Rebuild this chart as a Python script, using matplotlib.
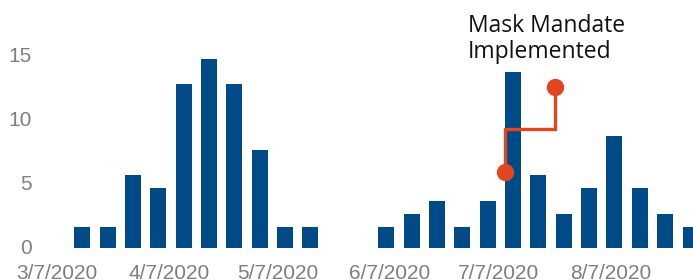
import matplotlib.pyplot as plt
import matplotlib.dates as mdates
import numpy as np

# weekly bars (week ending Saturday)
spring_weeks = ["2020-03-14", "2020-03-21", "2020-03-28", "2020-04-04", "2020-04-11",
                "2020-04-18", "2020-04-25", "2020-05-02", "2020-05-09", "2020-05-16"]
spring_values = [1.7, 1.7, 5.7, 4.7, 12.8, 14.8, 12.8, 7.7, 1.7, 1.7]

summer_weeks = ["2020-06-06", "2020-06-13", "2020-06-20", "2020-06-27", "2020-07-04",
                "2020-07-11", "2020-07-18", "2020-07-25", "2020-08-01", "2020-08-08",
                "2020-08-15", "2020-08-22", "2020-08-29"]
summer_values = [1.7, 2.7, 3.7, 1.7, 3.7, 13.8, 5.7, 2.7, 4.7, 8.8, 4.7, 2.7, 1.7]

tick_dates = ["2020-03-07", "2020-04-07", "2020-05-07", "2020-06-07", "2020-07-07", "2020-08-07"]
tick_labels = ["3/7/2020", "4/7/2020", "5/7/2020", "6/7/2020", "7/7/2020", "8/7/2020"]
y_ticks = [0, 5, 10, 15]

# annotation connector: elbow from the spike to the label
mandate_x = ["2020-07-08T17:00", "2020-07-08T17:00", "2020-07-22T14:00", "2020-07-22T14:00"]
mandate_y = [6.0, 9.3, 9.3, 12.6]
mandate_label = "Mask Mandate\nImplemented"

BAR_COLOR = "#004A87"
ACCENT = "#E2461E"
GREY = "#7f7f7f"

W, H, DPI = 693, 280, 100
PX_PER_DAY = 3.62
PX_PER_UNIT = 12.8


def to_num(dates):
    return mdates.date2num(np.array(dates, dtype="datetime64[m]"))


fig = plt.figure(figsize=(W / DPI, H / DPI), dpi=DPI)
left_px, bottom_px, top_px = 40, 280 - 248.3, 280 - 40
ax = fig.add_axes([left_px / W, bottom_px / H, 1 - left_px / W, (top_px - bottom_px) / H])

origin = to_num(["2020-03-07"])[0]
ax.set_xlim(origin - (57 - left_px) / PX_PER_DAY, origin + (W - 57) / PX_PER_DAY)
ax.set_ylim(0, (top_px - bottom_px) / PX_PER_UNIT)

bar_w = 16 / PX_PER_DAY
ax.bar(to_num(spring_weeks), spring_values, width=bar_w, color=BAR_COLOR)
ax.bar(to_num(summer_weeks), summer_values, width=bar_w, color=BAR_COLOR)

mx = to_num(mandate_x)
ax.plot(mx, mandate_y, color=ACCENT, lw=2.4, solid_joinstyle="miter", zorder=3)
ax.plot(mx[[0, -1]], [mandate_y[0], mandate_y[-1]], "o", color=ACCENT, ms=11.5, zorder=4)

# va="baseline" on multi-line text anchors the last line
fig.text(468 / W, 1 - 58.3 / H, mandate_label, fontsize=16.5, family="Open Sans",
         va="baseline", ha="left", color="#111111", linespacing=1.15)

ax.set_xticks(to_num(tick_dates))
ax.set_xticklabels(tick_labels)
ax.set_yticks(y_ticks)
ax.tick_params(length=0, labelsize=15, labelcolor=GREY)
ax.tick_params(axis="x", pad=11)
ax.tick_params(axis="y", pad=6)
for lbl in ax.get_xticklabels() + ax.get_yticklabels():
    lbl.set_family("Liberation Sans")
for lbl in ax.get_yticklabels():
    lbl.set_verticalalignment("center")
for s in ax.spines.values():
    s.set_visible(False)

fig.savefig("out.png", dpi=DPI)
